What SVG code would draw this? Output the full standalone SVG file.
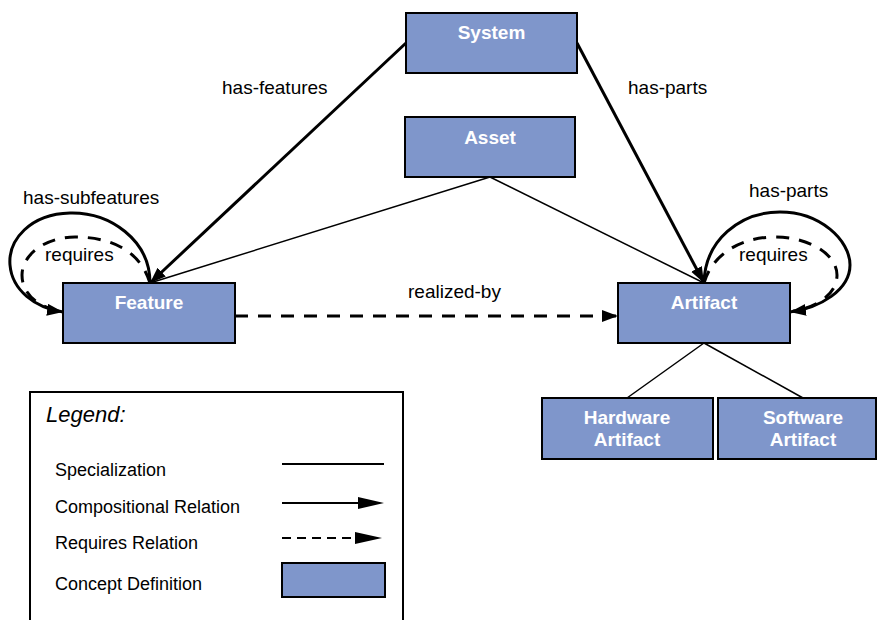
<svg xmlns="http://www.w3.org/2000/svg" width="877" height="620" viewBox="0 0 877 620">
<defs>
<style>
.node rect{fill:#7F96CB;stroke:#000;stroke-width:2}
.node text{font-family:"Liberation Sans",Arial,sans-serif;font-size:19px;font-weight:bold;fill:#fff;text-anchor:middle}
.lbl{font-family:"Liberation Sans",Arial,sans-serif;font-size:19px;fill:#000}
.leg{font-family:"Liberation Sans",Arial,sans-serif;font-size:18px;fill:#000}
.title{font-family:"Liberation Sans",Arial,sans-serif;font-size:22px;font-style:italic;fill:#000}
.thick{fill:none;stroke:#000;stroke-width:3}
.thin{fill:none;stroke:#000;stroke-width:1.5}
.dash{fill:none;stroke:#000;stroke-width:3;stroke-dasharray:13 10}
</style>
<marker id="arr" markerUnits="userSpaceOnUse" markerWidth="18" markerHeight="14" refX="16" refY="6" orient="auto">
<path d="M0,0 L16,6 L0,12 z" fill="#000"/>
</marker>
</defs>

<g id="connectors">
<line class="thick" x1="406" y1="43" x2="150" y2="283" marker-end="url(#arr)"/>
<line class="thick" x1="577" y1="43" x2="704" y2="283" marker-end="url(#arr)"/>
<line class="thin" x1="490" y1="177" x2="150" y2="283"/>
<line class="thin" x1="490" y1="177" x2="704" y2="283"/>
<line class="dash" x1="235" y1="316" x2="618" y2="316" marker-end="url(#arr)"/>
<line class="thin" x1="704" y1="343" x2="627" y2="398"/>
<line class="thin" x1="704" y1="343" x2="803" y2="398"/>
<path class="thick" d="M150,283 C150,240 110,212 70,213 C30,214 8,240 10,265 C12,290 35,308 63,312" marker-end="url(#arr)"/>
<path class="dash" stroke-dasharray="11 8" d="M150,283 C140,250 110,237 75,237 C45,237 22,255 22,275 C22,295 40,308 60,311"/>
<path class="thick" d="M704,283 C705,240 740,212 780,212 C820,212 850,240 850,265 C850,290 820,308 790,312" marker-end="url(#arr)"/>
<path class="dash" stroke-dasharray="11 8" d="M704,283 C712,255 740,237 775,237 C810,237 837,255 837,275 C837,295 815,308 793,311"/>
<text class="lbl" x="222" y="94">has-features</text>
<text class="lbl" x="628" y="94">has-parts</text>
<text class="lbl" x="23" y="204">has-subfeatures</text>
<text class="lbl" x="45" y="261">requires</text>
<text class="lbl" x="749" y="197">has-parts</text>
<text class="lbl" x="739" y="261">requires</text>
<text class="lbl" x="408" y="298">realized-by</text>
</g>

<g id="system" class="node"><rect x="406" y="13" width="171" height="60"/><text x="491.5" y="39">System</text></g>
<g id="asset" class="node"><rect x="405" y="117" width="170" height="60"/><text x="490" y="144">Asset</text></g>
<g id="feature" class="node"><rect x="63" y="283" width="172" height="60"/><text x="149" y="309">Feature</text></g>
<g id="artifact" class="node"><rect x="618" y="283" width="172" height="60"/><text x="704" y="309">Artifact</text></g>
<g id="hardware" class="node"><rect x="542" y="398" width="171" height="61"/><text x="627" y="424">Hardware</text><text x="627" y="446">Artifact</text></g>
<g id="software" class="node"><rect x="718" y="398" width="158" height="61"/><text x="803" y="424">Software</text><text x="803" y="446">Artifact</text></g>

<g id="legend">
<rect x="30" y="392" width="373" height="240" fill="#fff" stroke="#000" stroke-width="2"/>
<text class="title" x="46" y="422">Legend:</text>
<text class="leg" x="55" y="476">Specialization</text>
<text class="leg" x="55" y="513">Compositional Relation</text>
<text class="leg" x="55" y="549">Requires Relation</text>
<text class="leg" x="55" y="590">Concept Definition</text>
<line x1="282" y1="464" x2="384" y2="464" stroke="#000" stroke-width="2"/>
<line x1="282" y1="503" x2="360" y2="503" stroke="#000" stroke-width="2"/>
<polygon points="358,497 384,503 358,509" fill="#000"/>
<line x1="282" y1="538" x2="356" y2="538" stroke="#000" stroke-width="2" stroke-dasharray="9 6"/>
<polygon points="355,532 382,538 355,544" fill="#000"/>
<rect x="282" y="563" width="103" height="34" fill="#7F96CB" stroke="#000" stroke-width="2"/>
</g>
</svg>
